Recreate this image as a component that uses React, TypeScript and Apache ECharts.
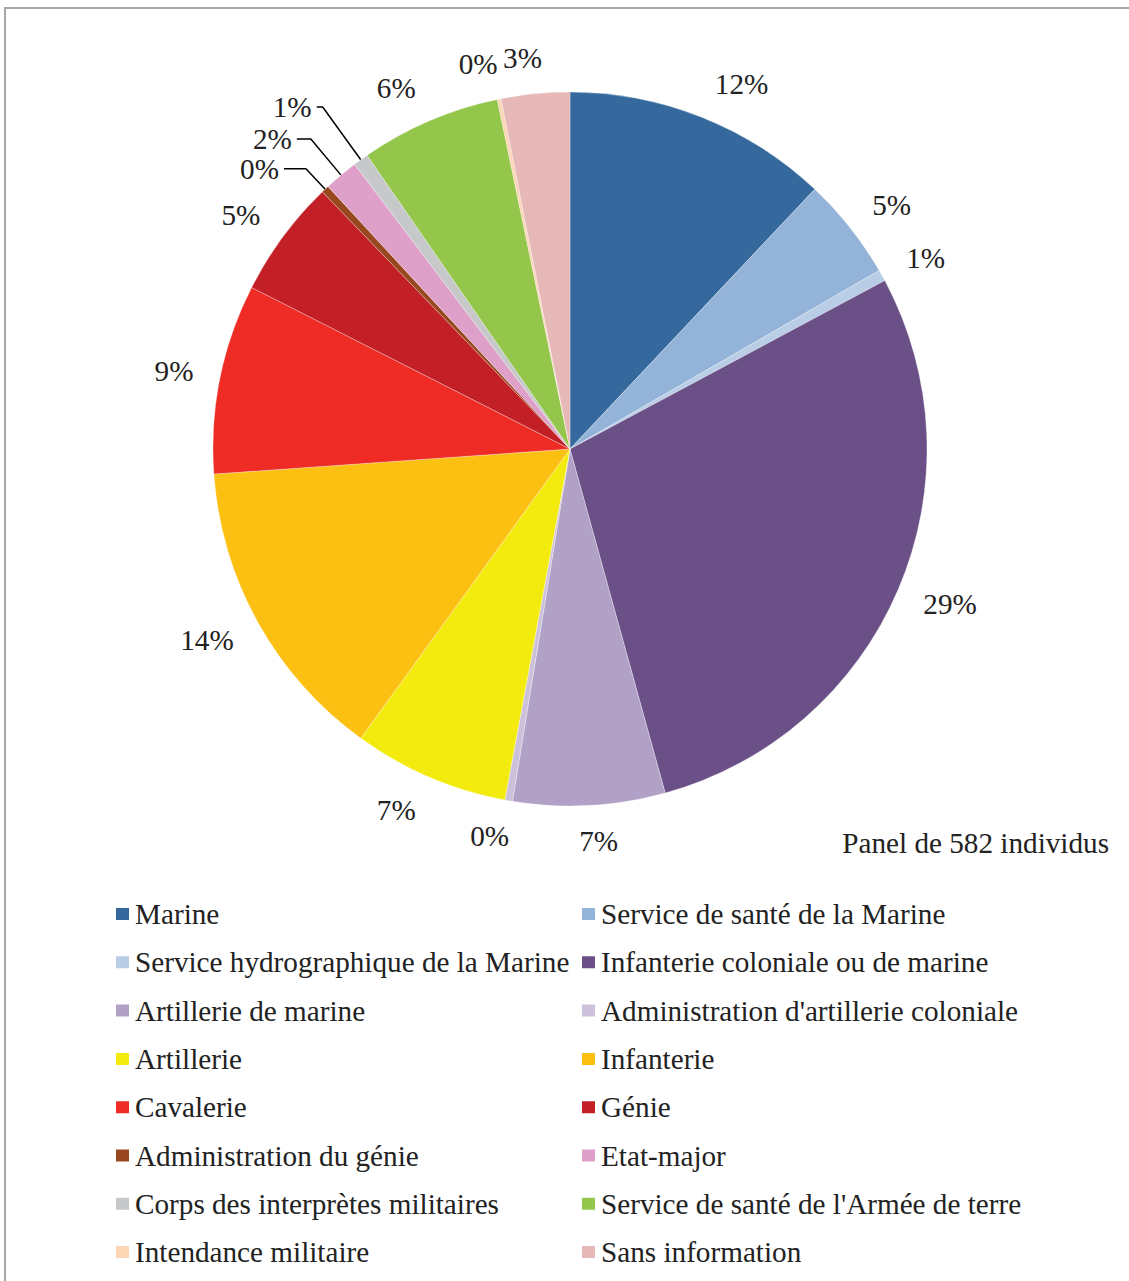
import React, { useEffect, useRef } from "react";
import * as echarts from "echarts";

const categories = [
  "Marine",
  "Service de santé de la Marine",
  "Service hydrographique de la Marine",
  "Infanterie coloniale ou de marine",
  "Artillerie de marine",
  "Administration d'artillerie coloniale",
  "Artillerie",
  "Infanterie",
  "Cavalerie",
  "Génie",
  "Administration du génie",
  "Etat-major",
  "Corps des interprètes militaires",
  "Service de santé de l'Armée de terre",
  "Intendance militaire",
  "Sans information",
];

const counts = [70, 27, 3, 166, 40, 2, 41, 81, 50, 31, 2, 9, 4, 37, 1, 18];

const colors = [
  "#35699E", "#93B3D8", "#B9CDE6", "#6A5087", "#B2A1C7", "#CCC1DA",
  "#F3EB0D", "#FCC013", "#EE2B25", "#C21F26", "#98481F", "#DEA0C8",
  "#C7C8CA", "#93C64B", "#FCD5B4", "#E6B9B8",
];

const footnote = "Panel de 582 individus";

// leader-line labels (index -> [length, length2])
const leaders: Record<number, [number, number]> = {
  10: [28, 22],
  11: [47, 14],
  12: [65, 6],
};

const FONT = "'Liberation Serif', 'Times New Roman', serif";
const TXT = "#222222";
const FS = 29.2;

export default function App() {
  const ref = useRef<HTMLDivElement>(null);
  useEffect(() => {
    if (!ref.current) return;
    const chart = echarts.init(ref.current, null, { renderer: "svg" });
    const total = counts.reduce((a, b) => a + b, 0);
    let cum = 0;
    const mids = counts.map((v) => {
      const m = ((cum + v / 2) / total) * Math.PI * 2;
      cum += v;
      return m;
    });
    const data = categories.map((name, i) => {
      const item: any = {
        name,
        value: counts[i],
        itemStyle: { color: colors[i] },
      };
      const ld = leaders[i];
      if (ld) {
        item.labelLine = { show: true, length: ld[0], length2: ld[1] };
      }
      return item;
    });
    const leftNames = categories.filter((_, i) => i % 2 === 0);
    const rightNames = categories.filter((_, i) => i % 2 === 1);
    const legendBase = {
      orient: "vertical",
      top: 899,
      padding: 0,
      itemWidth: 15,
      itemHeight: 14,
      itemGap: 18.3,
      icon: "rect",
      selectedMode: false,
      textStyle: { fontFamily: FONT, fontSize: FS, color: TXT, lineHeight: 30 },
    };
    chart.setOption({
      animation: false,
      backgroundColor: "#ffffff",
      title: {
        text: footnote,
        right: 20,
        top: 828,
        padding: 0,
        textStyle: { fontFamily: FONT, fontSize: FS, fontWeight: "normal", color: TXT },
      },
      legend: [
        { ...legendBase, left: 114, data: leftNames },
        { ...legendBase, left: 580, data: rightNames },
      ],
      graphic: [
        {
          type: "rect",
          shape: { x: 5, y: 8, width: 1300, height: 1400 },
          style: { fill: "none", stroke: "#A6A6A6", lineWidth: 2 },
          silent: true,
        },
      ],
      series: [
        {
          type: "pie",
          center: [570, 449],
          radius: 357,
          startAngle: 90,
          clockwise: true,
          avoidLabelOverlap: false,
          silent: true,
          itemStyle: { borderColor: "#ffffff", borderWidth: 0.3 },
          label: {
            show: true,
            position: "outside",
            fontFamily: FONT,
            fontSize: FS,
            color: TXT,
            formatter: (p: any) => Math.round(p.percent) + "%",
          },
          labelLine: {
            show: false,
            length: 22,
            length2: 0,
            lineStyle: { color: "#000000", width: 1.5 },
          },
          labelLayout: (p: any) => {
            if (leaders[p.dataIndex]) return {};
            const a = mids[p.dataIndex];
            const s = Math.sin(a);
            const c = Math.cos(a);
            const w = p.labelRect ? p.labelRect.width : 36;
            const f = Math.min(1, Math.abs(s) / 0.33);
            return {
              dx: -Math.sign(s) * (w / 2) * (1 - f),
              dy: -14 * c,
            };
          },
          data,
        },
      ],
    });
    return () => chart.dispose();
  }, []);
  return (
    <div
      ref={ref}
      style={{ position: "fixed", left: 0, top: 0, width: 1129, height: 1281 }}
    />
  );
}
